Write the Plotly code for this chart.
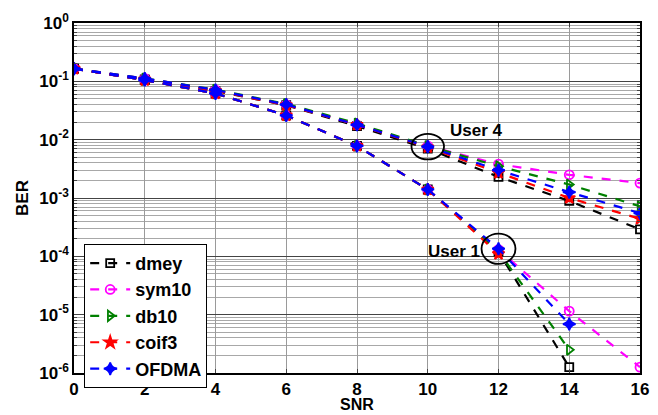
import numpy as np
import plotly.graph_objects as go

snr = [0, 2, 4, 6, 8, 10, 12, 14, 16]

# User 4 (upper group)
dmey_u4 = [0.165, 0.108, 0.068, 0.039, 0.017, 0.0070, 0.0023, 0.00089, 0.00029]
sym10_u4 = [0.165, 0.112, 0.071, 0.040, 0.018, 0.0078, 0.0038, 0.0025, 0.0018]
db10_u4 = [0.165, 0.112, 0.072, 0.041, 0.019, 0.0078, 0.0035, 0.0017, 0.00072]
coif3_u4 = [0.165, 0.108, 0.069, 0.039, 0.018, 0.0074, 0.0027, 0.0010, 0.00044]
ofdma_u4 = [0.165, 0.112, 0.071, 0.040, 0.018, 0.0076, 0.0030, 0.00126, 0.00055]

# User 1 (lower group)
snr_dmey_u1 = [0, 2, 4, 6, 8, 10, 12, 14]
dmey_u1 = [0.165, 0.105, 0.062, 0.026, 0.0078, 0.0014, 0.00012, 1.26e-6]
snr_sym10_u1 = [0, 2, 4, 6, 8, 10, 12, 14, 16]
sym10_u1 = [0.165, 0.105, 0.062, 0.026, 0.0078, 0.0014, 0.00013, 1.15e-5, 1.26e-6]
snr_db10_u1 = [0, 2, 4, 6, 8, 10, 12, 14]
db10_u1 = [0.165, 0.105, 0.062, 0.026, 0.0078, 0.0014, 0.00012, 2.5e-6]
snr_coif3_u1 = [0, 2, 4, 6, 8, 10, 12]
coif3_u1 = [0.165, 0.105, 0.062, 0.026, 0.0078, 0.0014, 0.00011]
snr_ofdma_u1 = [0, 2, 4, 6, 8, 10, 12, 14]
ofdma_u1 = [0.165, 0.105, 0.062, 0.026, 0.0078, 0.0014, 0.000135, 6.9e-6]

names = ["dmey", "sym10", "db10", "coif3", "OFDMA"]
colors = ["#000000", "#ff00ff", "#008000", "#ff0000", "#0000ff"]
symbols = ["square-open", "circle-open", "triangle-right-open", "star", "star-diamond"]
msizes = [8, 9, 9, 9, 9]

u4 = [(snr, dmey_u4), (snr, sym10_u4), (snr, db10_u4), (snr, coif3_u4), (snr, ofdma_u4)]
u1 = [(snr_dmey_u1, dmey_u1), (snr_sym10_u1, sym10_u1), (snr_db10_u1, db10_u1),
      (snr_coif3_u1, coif3_u1), (snr_ofdma_u1, ofdma_u1)]

yticks = [1, 0.1, 0.01, 1e-3, 1e-4, 1e-5, 1e-6]
ytext = ["10<sup>0</sup>", "10<sup>-1</sup>", "10<sup>-2</sup>",
         "10<sup>-3</sup>", "10<sup>-4</sup>", "10<sup>-5</sup>",
         "10<sup>-6</sup>"]
xticks = [0, 2, 4, 6, 8, 10, 12, 14, 16]
YMIN, YMAX = -6, 0

fig = go.Figure()

for i in range(5):
    for grp, show in ((u1, False), (u4, True)):
        xs, ys = grp[i]
        fig.add_trace(go.Scatter(
            x=xs, y=ys, mode="lines+markers", name=names[i], showlegend=show,
            line=dict(color=colors[i], width=2.2, dash="dash"),
            marker=dict(symbol=symbols[i], size=msizes[i], color=colors[i],
                        line=dict(color=colors[i], width=1.8)),
        ))

FONT = "Liberation Sans, Arial, sans-serif"

def circ(xc, yc, rx, ry):
    py = (np.log10(yc) - YMIN) / (YMAX - YMIN)
    pr = ry / (YMAX - YMIN)
    fig.add_shape(type="circle", xref="x", yref="paper",
                  x0=xc - rx, x1=xc + rx, y0=py - pr, y1=py + pr,
                  line=dict(color="black", width=1.8))

circ(snr[5], ofdma_u4[5], 0.46, 0.22)
circ(snr_ofdma_u1[6], ofdma_u1[6], 0.48, 0.26)

fig.add_annotation(x=11.38, y=-1.84, text="<b>User 4</b>", showarrow=False,
                   font=dict(family=FONT, size=17, color="black"))
fig.add_annotation(x=10.74, y=-3.91, text="<b>User 1</b>", showarrow=False,
                   font=dict(family=FONT, size=17, color="black"))

# axis titles
fig.add_annotation(xref="paper", yref="paper", x=0.5, y=-0.091, text="<b>SNR</b>",
                   xanchor="center", yanchor="middle",
                   showarrow=False, font=dict(family=FONT, size=16, color="black"))
fig.add_annotation(xref="paper", yref="paper", x=-0.092, y=0.5, text="<b>BER</b>",
                   xanchor="center", yanchor="middle",
                   textangle=-90, showarrow=False,
                   font=dict(family=FONT, size=17, color="black"))

fig.update_layout(
    width=658, height=415,
    margin=dict(l=74, r=18, t=23, b=42, autoexpand=False),
    paper_bgcolor="white", plot_bgcolor="white",
    font=dict(family=FONT, size=17, color="black"),
    showlegend=True,
    legend=dict(x=0.018, y=0.369, xanchor="left", yanchor="top",
                bgcolor="white", bordercolor="black", borderwidth=1,
                font=dict(family=FONT, size=18, color="black", weight="bold"),
                itemwidth=40, tracegroupgap=0),
    xaxis=dict(range=[0, 16], tickvals=xticks, ticks="inside", ticklen=4,
               automargin=False,
               showline=True, linecolor="black", linewidth=1.5, mirror="allticks",
               showgrid=True, gridcolor="#9a9a9a", gridwidth=1, zeroline=False,
               ticklabelstandoff=0,
               tickfont=dict(family=FONT, size=17, color="black", weight="bold")),
    yaxis=dict(type="log", range=[YMIN, YMAX], tickvals=yticks, ticktext=ytext,
               ticks="inside", ticklen=5, automargin=False,
               showline=True, linecolor="black", linewidth=1.5, mirror="allticks",
               showgrid=True, gridcolor="#444444", gridwidth=1, zeroline=False,
               minor=dict(dtick="D1", showgrid=True, gridcolor="#a8a8a8", gridwidth=1,
                          ticks="inside", ticklen=3),
               tickfont=dict(family=FONT, size=17, color="black", weight="bold")),
)

fig.write_html("out.html")
